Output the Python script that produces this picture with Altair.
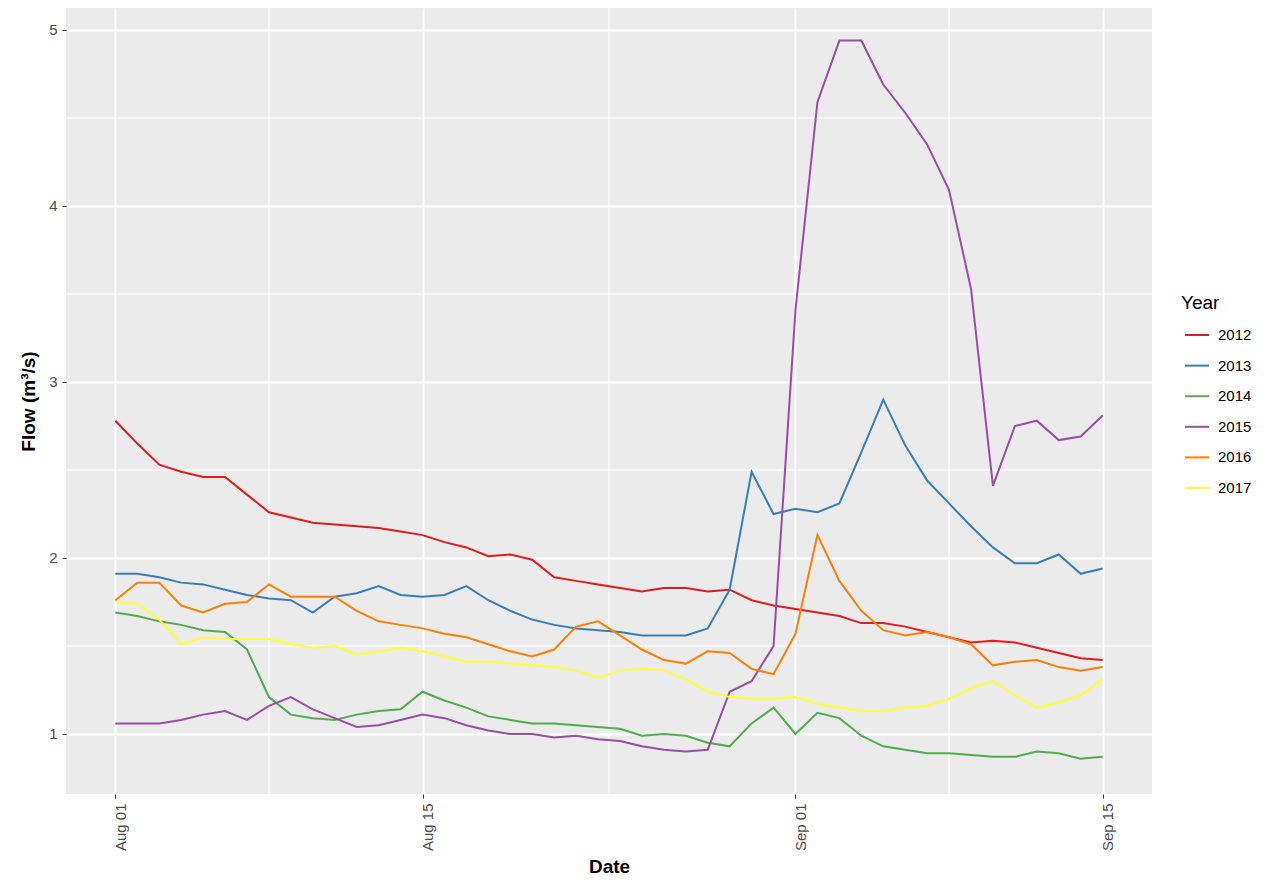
import altair as alt
import pandas as pd

# ---- data ----
days = list(range(46))  # 0 = Aug 01 ... 45 = Sep 15
years = ["2012", "2013", "2014", "2015", "2016", "2017"]

flow_2012 = [2.78, 2.65, 2.53, 2.49, 2.46, 2.46, 2.36, 2.26, 2.23, 2.20,
             2.19, 2.18, 2.17, 2.15, 2.13, 2.09, 2.06, 2.01, 2.02, 1.99,
             1.89, 1.87, 1.85, 1.83, 1.81, 1.83, 1.83, 1.81, 1.82, 1.76,
             1.73, 1.71, 1.69, 1.67, 1.63, 1.63, 1.61, 1.58, 1.55, 1.52,
             1.53, 1.52, 1.49, 1.46, 1.43, 1.42]
flow_2013 = [1.91, 1.91, 1.89, 1.86, 1.85, 1.82, 1.79, 1.77, 1.76, 1.69,
             1.78, 1.80, 1.84, 1.79, 1.78, 1.79, 1.84, 1.76, 1.70, 1.65,
             1.62, 1.60, 1.59, 1.58, 1.56, 1.56, 1.56, 1.60, 1.82, 2.49,
             2.25, 2.28, 2.26, 2.31, 2.60, 2.90, 2.64, 2.44, 2.31, 2.18,
             2.06, 1.97, 1.97, 2.02, 1.91, 1.94]
flow_2014 = [1.69, 1.67, 1.64, 1.62, 1.59, 1.58, 1.48, 1.21, 1.11, 1.09,
             1.08, 1.11, 1.13, 1.14, 1.24, 1.19, 1.15, 1.10, 1.08, 1.06,
             1.06, 1.05, 1.04, 1.03, 0.99, 1.00, 0.99, 0.95, 0.93, 1.06,
             1.15, 1.00, 1.12, 1.09, 0.99, 0.93, 0.91, 0.89, 0.89, 0.88,
             0.87, 0.87, 0.90, 0.89, 0.86, 0.87]
flow_2015 = [1.06, 1.06, 1.06, 1.08, 1.11, 1.13, 1.08, 1.16, 1.21, 1.14,
             1.09, 1.04, 1.05, 1.08, 1.11, 1.09, 1.05, 1.02, 1.00, 1.00,
             0.98, 0.99, 0.97, 0.96, 0.93, 0.91, 0.90, 0.91, 1.24, 1.30,
             1.50, 3.41, 4.59, 4.94, 4.94, 4.69, 4.53, 4.35, 4.09, 3.53,
             2.41, 2.75, 2.78, 2.67, 2.69, 2.81]
flow_2016 = [1.76, 1.86, 1.86, 1.73, 1.69, 1.74, 1.75, 1.85, 1.78, 1.78,
             1.78, 1.70, 1.64, 1.62, 1.60, 1.57, 1.55, 1.51, 1.47, 1.44,
             1.48, 1.61, 1.64, 1.56, 1.48, 1.42, 1.40, 1.47, 1.46, 1.37,
             1.34, 1.57, 2.13, 1.87, 1.70, 1.59, 1.56, 1.58, 1.55, 1.51,
             1.39, 1.41, 1.42, 1.38, 1.36, 1.38]
flow_2017 = [1.75, 1.74, 1.65, 1.51, 1.55, 1.54, 1.54, 1.54, 1.51, 1.49,
             1.50, 1.45, 1.47, 1.49, 1.47, 1.44, 1.41, 1.41, 1.40, 1.39,
             1.38, 1.36, 1.32, 1.36, 1.37, 1.36, 1.31, 1.24, 1.21, 1.20,
             1.20, 1.21, 1.17, 1.15, 1.13, 1.13, 1.15, 1.16, 1.20, 1.26,
             1.30, 1.22, 1.15, 1.18, 1.22, 1.31]

tick_days = [0, 14, 31, 45]
tick_labels = ["Aug 01", "Aug 15", "Sep 01", "Sep 15"]
minor_x = [7, 22.5, 38]
major_y = [1, 2, 3, 4, 5]
minor_y = [1.5, 2.5, 3.5, 4.5]
colors = ["#E41A1C", "#377EB8", "#4DAF4A", "#984EA3", "#FF7F00", "#FFFF33"]

series = [flow_2012, flow_2013, flow_2014, flow_2015, flow_2016, flow_2017]
rows = []
for yr, vals in zip(years, series):
    for d, v in zip(days, vals):
        rows.append({"Day": d, "Flow": v, "Year": yr})
df = pd.DataFrame(rows)

label_expr = "''"
for d, lab in zip(reversed(tick_days), reversed(tick_labels)):
    label_expr = f"datum.value == {d} ? '{lab}' : ({label_expr})"

x_scale = alt.Scale(domain=[-2.25, 47.25], nice=False, zero=False)
y_scale = alt.Scale(domain=[0.659, 5.125], nice=False, zero=False)

lines = alt.Chart(df).mark_line(strokeWidth=2, clip=True).encode(
    x=alt.X("Day:Q", scale=x_scale,
            axis=alt.Axis(title="Date", values=tick_days, labelExpr=label_expr,
                          labelAngle=270, labelAlign="right", labelBaseline="middle",
                          labelOffset=5, labelPadding=5, titlePadding=7,
                          gridWidth=2)),
    y=alt.Y("Flow:Q", scale=y_scale,
            axis=alt.Axis(title="Flow (m³/s)", values=major_y, format="d",
                          labelPadding=5, titlePadding=10, gridWidth=2)),
    color=alt.Color("Year:N", scale=alt.Scale(domain=years, range=colors),
                    legend=alt.Legend(orient="none", legendX=1115, legendY=286,
                                      title="Year", titleFontSize=19,
                                      titleFontWeight="normal", titleColor="black",
                                      titlePadding=9, labelFontSize=15,
                                      labelColor="black", labelOffset=8,
                                      symbolType="stroke", symbolStrokeWidth=2,
                                      symbolSize=576, symbolOffset=3,
                                      rowPadding=9.6, padding=0)),
    detail="Year:N",
)

minor_vx = alt.Chart(pd.DataFrame({"mx": minor_x})).mark_rule(
    color="white", strokeWidth=1).encode(x=alt.X("mx:Q", scale=x_scale))
minor_hy = alt.Chart(pd.DataFrame({"my": minor_y})).mark_rule(
    color="white", strokeWidth=1).encode(y=alt.Y("my:Q", scale=y_scale))

chart = alt.layer(minor_vx, minor_hy, lines).properties(
    width=1086, height=786,
    autosize=alt.AutoSizeParams(type="none"),
    padding={"left": 58, "top": 0, "right": 111, "bottom": 84},
).configure(
    font="Liberation Sans",
).configure_view(
    fill="#EBEBEB", stroke=None,
).configure_axis(
    domain=False, gridColor="white", tickColor="#333333", tickSize=4,
    labelFontSize=15, labelColor="#4D4D4D", titleFontSize=19,
    titleFontWeight="bold", titleColor="black", labelFont="Liberation Sans",
    titleFont="Liberation Sans",
).configure_legend(
    labelFont="Liberation Sans", titleFont="Liberation Sans",
)

chart.save("out.html", embed_options={"renderer": "svg", "actions": False})
